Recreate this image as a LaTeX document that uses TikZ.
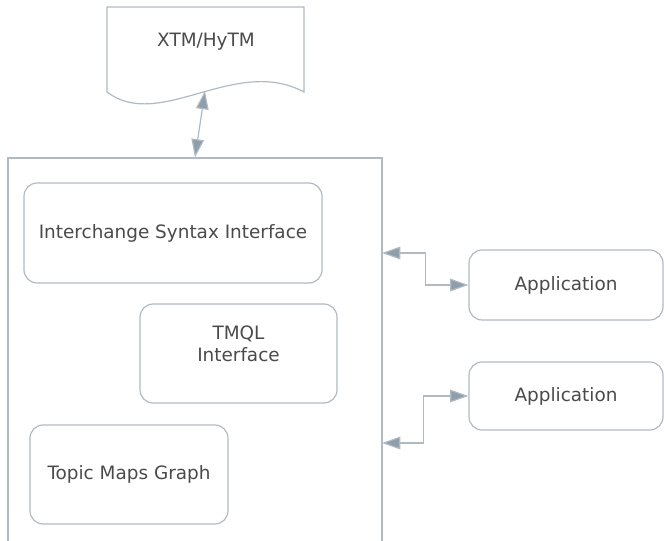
\documentclass[tikz,border=0pt]{standalone}
\usepackage{fontspec}
\setmainfont{DejaVu Sans}
\usetikzlibrary{arrows.meta, calc}

\definecolor{edgegray}{HTML}{B0BAC2}
\definecolor{tipgray}{HTML}{8E9FAB}
\definecolor{textgray}{HTML}{4A4A4A}

\tikzset{
  block/.style={draw=edgegray, line width=0.85pt, rounded corners=0.33cm,
    text=textgray, align=center, inner sep=0pt},
  link/.style={draw=edgegray, line width=0.85pt,
    {Triangle[length=13pt, width=9pt, fill=tipgray]}-{Triangle[length=13pt, width=9pt, fill=tipgray]}},
}

\begin{document}
\begin{tikzpicture}[font=\fontsize{13.1}{16}\selectfont]
        % Page frame, the outer box runs off the bottom edge
        \clip (0, 0) rectangle (16.6, 13.5);

        % Outer box
        \node[draw=edgegray, line width=0.85pt, minimum width=9.35cm, minimum height=10.05cm, inner sep=0pt] (core) at (4.875, 4.525) {};

        % Inner blocks
        \node[block, minimum width=7.45cm, minimum height=2.5cm] (isi) at (4.325, 7.675) {Interchange Syntax Interface};
        \node[block, minimum width=4.925cm, minimum height=2.475cm] (tmql) at (5.9625, 4.6625) {};
        \node[text=textgray, align=center] (tmqltext) at (5.9625, 4.9) {TMQL\\Interface};
        \node[block, minimum width=4.95cm, minimum height=2.475cm] (tmg) at (3.225, 1.6375) {Topic Maps Graph};

        % Applications on the right
        \node[block, minimum width=4.85cm, minimum height=1.75cm] (app1) at (14.15, 6.375) {Application};
        \node[block, minimum width=4.85cm, minimum height=1.7cm] (app2) at (14.15, 3.6) {Application};

        % Document with wavy bottom
        \draw[edgegray, line width=0.85pt] (2.675, 11.2) -- (2.675, 13.325) -- (7.6, 13.325) -- (7.6, 11.2)
            .. controls (5.875, 12.125) and (4.0, 10.2) .. cycle;
        \node[text=textgray] (doc) at (5.15, 12.45) {XTM/HyTM};
        \coordinate (docwave) at (5.125, 11.225);

        % Connectors
        \coordinate (p1) at (9.55, 7.175);
        \coordinate (p2) at (9.55, 2.425);
        \draw[link] (docwave) -- (core.north);
        \draw[link] (p1) -| ($(app1.west)+(-1.075, 0)$) -- (app1.west);
        \draw[link] (p2) -| ($(app2.west)+(-1.125, 0)$) -- (app2.west);
    \end{tikzpicture}
\end{document}
